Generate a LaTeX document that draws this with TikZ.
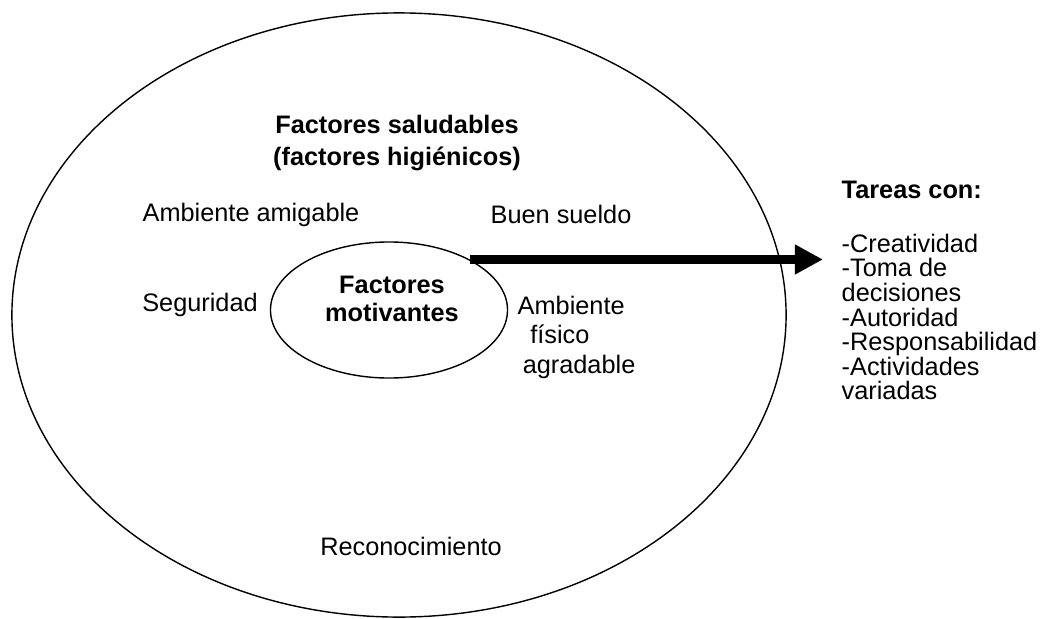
\documentclass[tikz,border=0pt]{standalone}
\usepackage{fontspec}
\setmainfont{Liberation Sans}
\usepackage{tikz}
\usetikzlibrary{positioning, arrows.meta, shapes.geometric}
\tikzset{
  texto/.style={font=\fontsize{18}{21}\selectfont, inner sep=0pt},
  titulo/.style={font=\fontsize{18}{22.5}\selectfont\bfseries, inner sep=0pt, align=center},
  flecha/.style={line width=7pt, -{Triangle[length=20pt, width=20pt]}}
}

\begin{document}
\begin{tikzpicture}[x=0.025cm, y=-0.025cm, line width=1pt]
    \useasboundingbox (0,0) rectangle (1051,618);
    % elipses
    \node[draw, ellipse, inner sep=0pt, minimum width=19.35cm, minimum height=15.1cm] (saludables) at (399,315) {};
    \node[draw, ellipse, inner sep=0pt, minimum width=5.925cm, minimum height=3.4cm] (motiv) at (389,310) {};
    \node[titulo, font=\fontsize{18}{20}\selectfont\bfseries] (motivtxt) at (392,299) {Factores\\motivantes};
    % textos
    \node[titulo] (higienicos) at (397,143) {Factores saludables\\(factores higiénicos)};
    \node[texto] (amigable) at (251,215) {Ambiente amigable};
    \node[texto] (sueldo) at (561,214) {Buen sueldo};
    \node[texto] (seguridad) at (200,305) {Seguridad};
    \node[texto, anchor=west, align=left] (fisico) at (517,337) {Ambiente\\\hspace*{0.5em}físico\\\hspace*{0.2em}agradable};
    \node[texto] (reconoc) at (411,546) {Reconocimiento};
    \node[texto, anchor=north west, align=left, font=\fontsize{18}{17.5}\selectfont] (tareas) at (841,180)
      {\textbf{Tareas con:}\\[21pt]-Creatividad\\-Toma de\\decisiones\\-Autoridad\\-Responsabilidad\\-Actividades\\variadas};
    % flecha
    \coordinate (punta) at (823,260);
    \draw[flecha] (motiv.32) -- (motiv.32 -| punta);
\end{tikzpicture}
\end{document}
